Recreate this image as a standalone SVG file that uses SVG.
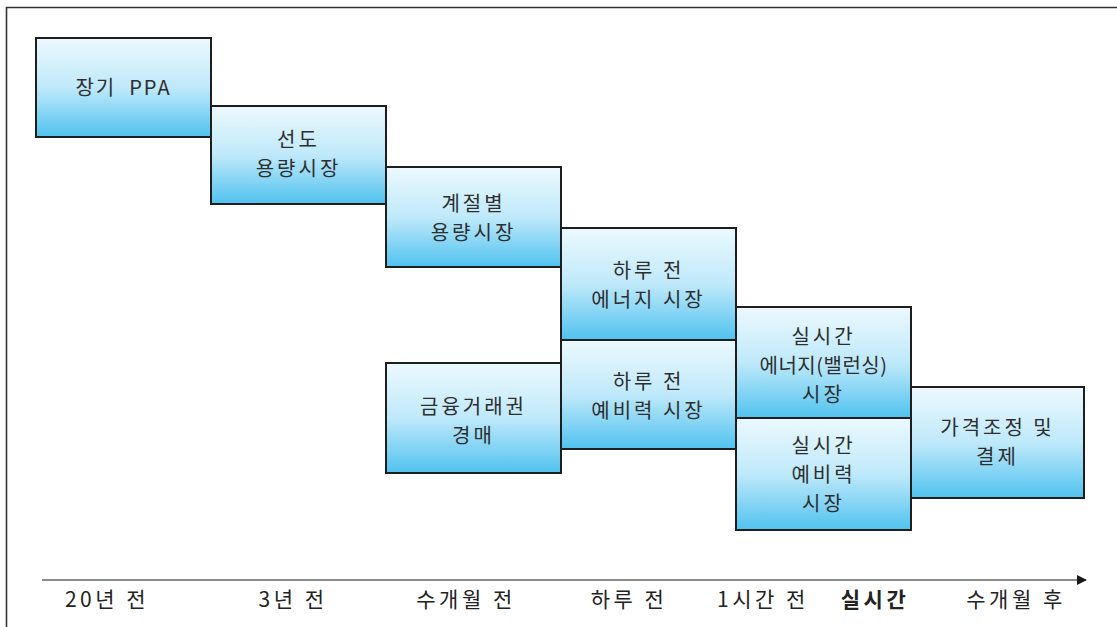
<svg xmlns="http://www.w3.org/2000/svg" width="1117" height="627" viewBox="0 0 1117 627">
<style>
.box{fill:url(#g);stroke:#1e1e1e;stroke-width:2}
.t{font-family:"Noto Sans CJK KR","Liberation Sans",sans-serif;font-size:20px;fill:#2e2e2e;text-anchor:middle;letter-spacing:3px}
.ax{font-family:"Noto Sans CJK KR","Liberation Sans",sans-serif;font-size:21px;fill:#222;text-anchor:middle;letter-spacing:3.5px}
</style>
<defs>
<linearGradient id="g" x1="0" y1="0" x2="0" y2="1">
<stop offset="0" stop-color="#ecf9fe"/>
<stop offset="0.5" stop-color="#bfe9fa"/>
<stop offset="1" stop-color="#50c2ef"/>
</linearGradient>
<marker id="arr" markerWidth="10" markerHeight="10" refX="9" refY="5" orient="auto" markerUnits="userSpaceOnUse">
<path d="M0,0 L10,5 L0,10 Z" fill="#1a1a1a"/>
</marker>
</defs>
<rect x="0" y="0" width="1117" height="627" fill="#fff"/>
<path d="M6.5,627 V7.5 H1117" fill="none" stroke="#333" stroke-width="1.6"/>

<g id="n1"><rect class="box" x="36" y="38" width="175" height="99"/>
<text class="t" x="123.5" y="95" style="white-space:pre;letter-spacing:2px">장기  PPA</text></g>
<g id="n2"><rect class="box" x="211" y="106" width="175" height="98"/>
<text class="t"><tspan x="298.5" y="146.5">선도</tspan><tspan x="298.5" y="175.5">용량시장</tspan></text></g>
<g id="n3"><rect class="box" x="386" y="167" width="175" height="100"/>
<text class="t"><tspan x="473.5" y="210.5">계절별</tspan><tspan x="473.5" y="239.5">용량시장</tspan></text></g>
<g id="n4"><rect class="box" x="561" y="228" width="175" height="112"/>
<text class="t"><tspan x="648.5" y="278">하루 전</tspan><tspan x="648.5" y="307">에너지 시장</tspan></text></g>
<g id="n5"><rect class="box" x="561" y="340" width="175" height="109"/>
<text class="t"><tspan x="648.5" y="388.5">하루 전</tspan><tspan x="648.5" y="417.5">예비력 시장</tspan></text></g>
<g id="n6"><rect class="box" x="386" y="363" width="175" height="110"/>
<text class="t"><tspan x="473.5" y="413.5">금융거래권</tspan><tspan x="473.5" y="442.5">경매</tspan></text></g>
<g id="n7"><rect class="box" x="736" y="307" width="175" height="111"/>
<text class="t"><tspan x="823.5" y="344">실시간</tspan><tspan x="823.5" y="373" style="letter-spacing:0.5px">에너지(밸런싱)</tspan><tspan x="823.5" y="402">시장</tspan></text></g>
<g id="n8"><rect class="box" x="736" y="418" width="175" height="112"/>
<text class="t"><tspan x="823.5" y="453">실시간</tspan><tspan x="823.5" y="482">예비력</tspan><tspan x="823.5" y="511">시장</tspan></text></g>
<g id="n9"><rect class="box" x="911" y="387" width="173" height="111"/>
<text class="t"><tspan x="997.5" y="435">가격조정 및</tspan><tspan x="997.5" y="464">결제</tspan></text></g>

<g id="connectors">
<line x1="42" y1="580" x2="1086" y2="580" stroke="#8c8c8c" stroke-width="2" marker-end="url(#arr)"/>
</g>
<g id="axis-labels">
<text class="ax" x="107" y="607">20년 전</text>
<text class="ax" x="293" y="607">3년 전</text>
<text class="ax" x="466" y="607">수개월 전</text>
<text class="ax" x="629" y="607">하루 전</text>
<text class="ax" x="763" y="607">1시간 전</text>
<text class="ax" x="875" y="607" font-weight="bold">실시간</text>
<text class="ax" x="1016" y="607">수개월 후</text>
</g>
</svg>
